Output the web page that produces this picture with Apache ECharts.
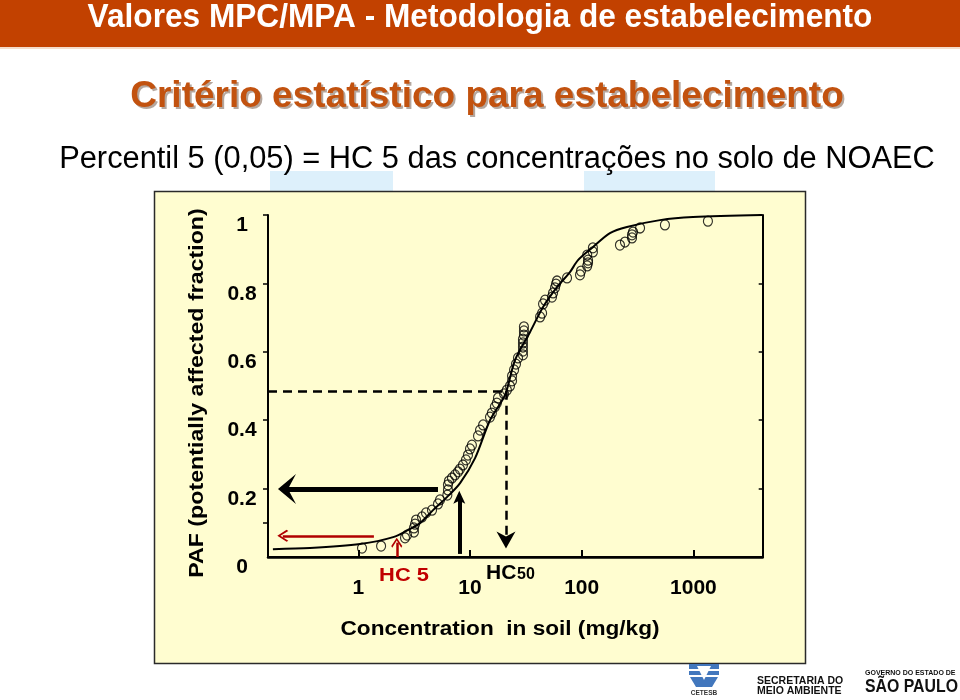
<!DOCTYPE html>
<html><head><meta charset="utf-8">
<script src="https://cdn.jsdelivr.net/npm/echarts@6/dist/echarts.min.js"></script>
<style>html,body{margin:0;padding:0;background:#fff}#c{width:960px;height:700px}</style>
</head><body><div id="c"></div>
<script>
// ---- data ----
const curveConc = [0.172, 0.37, 1.04, 2.05, 2.9, 3.57, 4.67, 6.22, 8.15, 11.1, 15.1, 20.6, 25.3, 34.5, 45.1, 60.1, 78.5, 92.7, 126, 179, 254, 502, 991, 4110];
const curvePaf  = [0.023, 0.026, 0.038, 0.058, 0.082, 0.099, 0.137, 0.175, 0.216, 0.289, 0.400, 0.474, 0.576, 0.658, 0.731, 0.789, 0.833, 0.868, 0.906, 0.947, 0.965, 0.985, 0.994, 1.0];
const speciesConc = [1.08, 1.60, 2.62, 2.73, 3.15, 3.15, 3.22, 3.29, 3.72, 4.04, 4.57, 5.17, 5.39, 6.27, 6.35, 6.35, 6.48, 6.90, 7.34, 7.81, 8.13, 8.65, 9.20, 9.59, 10.0, 10.4, 11.8, 12.3, 13.1, 15.1, 15.7, 16.7, 17.4, 17.8, 20.2, 21.4, 22.8, 23.8, 23.8, 24.8, 25.8, 26.9, 29.8, 29.8, 29.8, 29.8, 29.8, 30.4, 30.4, 30.4, 42.4, 44.2, 45.1, 47.0, 54.2, 55.4, 57.7, 58.9, 60.1, 73.9, 96.6, 98.6, 112, 114, 114, 112, 126, 126, 220, 244, 282, 282, 288, 333, 556, 1349];
const speciesPaf  = [0.026, 0.032, 0.056, 0.064, 0.073, 0.085, 0.096, 0.108, 0.117, 0.129, 0.137, 0.155, 0.167, 0.181, 0.196, 0.211, 0.222, 0.231, 0.240, 0.249, 0.257, 0.269, 0.284, 0.298, 0.316, 0.327, 0.354, 0.371, 0.386, 0.409, 0.421, 0.439, 0.450, 0.465, 0.477, 0.488, 0.500, 0.515, 0.529, 0.547, 0.564, 0.582, 0.591, 0.602, 0.614, 0.626, 0.637, 0.649, 0.661, 0.673, 0.702, 0.713, 0.740, 0.751, 0.760, 0.772, 0.787, 0.798, 0.807, 0.816, 0.825, 0.836, 0.851, 0.860, 0.868, 0.883, 0.892, 0.904, 0.912, 0.921, 0.933, 0.942, 0.950, 0.962, 0.971, 0.982];
const xTickValues = [1, 10, 100, 1000];
const xTickLabels = ['1', '10', '100', '1000'];
const yTickValues = [0, 0.2, 0.4, 0.6, 0.8, 1];
const yTickLabels = ['0', '0.2', '0.4', '0.6', '0.8', '1'];
const yLeftTickMarks = [0.1, 0.2, 0.4, 0.6, 0.8, 1];
// annotation values (data units)
const hc5 = 2.21, hc50 = 21.0, paf50 = 0.486, pafBig = 0.199, bigArrowConc = 8.02;
const bigArrowFrom = 5.17, bigArrowTo = 0.230, bigArrowBottom = 0.009, bigArrowTop = 0.175;
const redArrowFrom = 1.38, redArrowTo = 0.211, redArrowY = 0.062, redArrowTop = 0.042;
const dashedTo = 0.050, xMin = 0.1555, xMax = 4172;

const FF = '"Liberation Sans", Arial, Helvetica, sans-serif';
const chart = echarts.init(document.getElementById('c'), null, {renderer: 'canvas'});

const headBig = 'path://M0,0 L15,18 L0,10 L-15,18 Z';
const headDash = 'path://M0,0 L10,17 L0,12 L-10,17 Z';
const headSmall = 'path://M0,0 L6,13 L0,10 L-6,13 Z';
const headChevron = 'path://M0,0 L10,10 L8.2,11.8 L0,3.4 L-8.2,11.8 L-10,10 Z';

function fmtX(v) {
  const l = Math.log10(v);
  const r = Math.round(l);
  if (Math.abs(l - r) > 1e-6) return '';
  const i = xTickValues.indexOf(Math.pow(10, r));
  return i >= 0 ? xTickLabels[i] : '';
}
function fmtY(v) {
  const i = yTickValues.findIndex(t => Math.abs(t - v) < 1e-9);
  return i >= 0 ? yTickLabels[i] : '';
}

const option = {
  animation: false,
  backgroundColor: '#ffffff',
  grid: {left: 268, top: 215, width: 494.7, height: 342, show: false},
  xAxis: [{
    type: 'log', logBase: 10, min: xMin, max: xMax,
    axisLine: {show: true, lineStyle: {color: '#000', width: 2}},
    axisTick: {show: true, inside: true, length: 7, lineStyle: {color: '#000', width: 2}},
    minorTick: {show: false},
    axisLabel: {formatter: fmtX, color: '#000', fontSize: 21, fontWeight: 'bold', fontFamily: FF, margin: 21, showMinLabel: true, showMaxLabel: true},
    splitLine: {show: false}
  }, {
    type: 'log', logBase: 10, min: xMin, max: xMax, position: 'top',
    axisLine: {show: true, lineStyle: {color: '#000', width: 2.5}},
    axisTick: {show: false}, axisLabel: {show: false}, splitLine: {show: false}
  }],
  yAxis: [{
    type: 'value', min: 0, max: 1, interval: 0.2,
    axisLine: {show: true, lineStyle: {color: '#000', width: 2}},
    axisTick: {show: true, inside: false, length: 5, customValues: yLeftTickMarks, lineStyle: {color: '#000', width: 1.5}},
    axisLabel: {formatter: fmtY, color: '#000', fontSize: 21, fontWeight: 'bold', fontFamily: FF, margin: 26, align: 'center', verticalAlign: 'top', lineHeight: 21},
    splitLine: {show: false}
  }, {
    type: 'value', min: 0, max: 1, interval: 0.2, position: 'right',
    axisLine: {show: true, lineStyle: {color: '#000', width: 2}},
    axisTick: {show: true, inside: true, length: 4, lineStyle: {color: '#000', width: 1.5}},
    axisLabel: {show: false}, splitLine: {show: false}
  }],
  series: [{
    type: 'line', xAxisIndex: 0, yAxisIndex: 0,
    data: curveConc.map((c, i) => [c, curvePaf[i]]),
    showSymbol: false, smooth: 0.3, silent: true, z: 3,
    lineStyle: {color: '#000', width: 2},
    markLine: {
      silent: true, animation: false, symbol: ['none', 'none'],
      label: {show: false}, emphasis: {disabled: true},
      data: [
        [{coord: [bigArrowFrom, pafBig], lineStyle: {color: '#000', width: 5, type: 'solid'}},
         {coord: [bigArrowTo, pafBig], symbol: headBig, symbolSize: [30, 18]}],
        [{coord: [bigArrowConc, bigArrowBottom], lineStyle: {color: '#000', width: 4, type: 'solid'}},
         {coord: [bigArrowConc, bigArrowTop], symbol: headSmall, symbolSize: [12, 13]}],
        [{coord: [xMin, paf50], lineStyle: {color: '#000', width: 2.5, type: [9, 6]}},
         {coord: [hc50, paf50]}],
        [{coord: [hc50, paf50], lineStyle: {color: '#000', width: 2.5, type: [9, 6]}},
         {coord: [hc50, dashedTo], symbol: headDash, symbolSize: [19, 17]}],
        [{coord: [redArrowFrom, redArrowY], lineStyle: {color: '#B00000', width: 2.5, type: 'solid'}},
         {coord: [redArrowTo, redArrowY], symbol: headChevron, symbolSize: [12, 11]}],
        [{coord: [hc5, 0], lineStyle: {color: '#B00000', width: 2.5, type: 'solid'}},
         {coord: [hc5, redArrowTop], symbol: headChevron, symbolSize: [11, 10]}]
      ]
    }
  }, {
    type: 'scatter', xAxisIndex: 0, yAxisIndex: 0, clip: false, silent: true, z: 4,
    data: speciesConc.map((c, i) => [c, speciesPaf[i]]),
    symbol: 'circle', symbolSize: [9, 10],
    itemStyle: {color: 'rgba(0,0,0,0)', borderColor: '#000', borderWidth: 1.2}
  }],
  graphic: {elements: [
    {type: 'rect', z: -10, silent: true, shape: {x: 0, y: 0, width: 960, height: 47}, style: {fill: '#C24100'}},
    {type: 'rect', z: -10, silent: true, shape: {x: 0, y: 47, width: 960, height: 2}, style: {fill: '#F4DCCB'}},
    {type: 'text', z: 10, silent: true, x: 480, y: 18, scaleX: 0.93, style: {text: 'Valores MPC/MPA - Metodologia de estabelecimento', x: 0, y: 0, align: 'center', verticalAlign: 'middle', fill: '#ffffff', font: 'bold 34px ' + FF}},
    {type: 'text', z: 10, silent: true, style: {text: 'Critério estatístico para estabelecimento', x: 489, y: 99, align: 'center', verticalAlign: 'middle', fill: 'rgba(90,60,40,0.45)', font: 'bold 37px ' + FF}},
    {type: 'text', z: 10, silent: true, style: {text: 'Critério estatístico para estabelecimento', x: 487, y: 97, align: 'center', verticalAlign: 'middle', fill: '#C2520F', font: 'bold 37px ' + FF}},
    {type: 'rect', z: -10, silent: true, shape: {x: 270, y: 171, width: 123, height: 20}, style: {fill: '#DDF0FB'}},
    {type: 'rect', z: -10, silent: true, shape: {x: 584, y: 171, width: 131, height: 20}, style: {fill: '#DDF0FB'}},
    {type: 'text', z: 10, silent: true, style: {text: 'Percentil 5 (0,05) = HC 5 das concentrações no solo de NOAEC', x: 497, y: 160, align: 'center', verticalAlign: 'middle', fill: '#000', font: 'normal 30.8px ' + FF}},
    {type: 'rect', z: -10, silent: true, shape: {x: 154.5, y: 191.5, width: 651, height: 472}, style: {fill: '#FFFDD0', stroke: '#2a2a2a', lineWidth: 1.5}},
    {type: 'text', z: 10, silent: true, rotation: Math.PI / 2, x: 197, y: 393, scaleX: 1.16, style: {text: 'PAF (potentially affected fraction)', x: 0, y: 0, align: 'center', verticalAlign: 'middle', fill: '#000', font: 'bold 20px ' + FF}},
    {type: 'text', z: 10, silent: true, x: 404, y: 576, scaleX: 1.15, style: {text: 'HC 5', x: 0, y: 0, align: 'center', verticalAlign: 'middle', fill: '#C00000', font: 'bold 19px ' + FF}},
    {type: 'text', z: 10, silent: true, style: {text: 'HC', x: 486, y: 584, align: 'left', verticalAlign: 'bottom', fill: '#000', font: 'bold 21px ' + FF}},
    {type: 'text', z: 10, silent: true, style: {text: '50', x: 517, y: 583, align: 'left', verticalAlign: 'bottom', fill: '#000', font: 'bold 16px ' + FF}},
    {type: 'text', z: 10, silent: true, x: 500, y: 629, scaleX: 1.13, style: {text: 'Concentration  in soil (mg/kg)', x: 0, y: 0, align: 'center', verticalAlign: 'middle', fill: '#000', font: 'bold 20px ' + FF}},
    // CETESB logo (approximate)
    {type: 'polygon', z: 10, silent: true, shape: {points: [[689, 664], [719, 664], [719, 669], [689, 669]]}, style: {fill: '#4277BD'}},
    {type: 'polygon', z: 10, silent: true, shape: {points: [[689, 671], [719, 671], [719, 675], [689, 675]]}, style: {fill: '#4277BD'}},
    {type: 'polygon', z: 10, silent: true, shape: {points: [[690, 677], [718, 677], [712, 687], [696, 687]]}, style: {fill: '#4277BD'}},
    {type: 'polygon', z: 10, silent: true, shape: {points: [[697, 666], [711, 666], [704, 680]]}, style: {fill: '#ffffff'}},
    {type: 'text', z: 10, silent: true, style: {text: 'CETESB', x: 704, y: 693, align: 'center', verticalAlign: 'middle', fill: '#333', font: 'bold 6.5px ' + FF}},
    {type: 'text', z: 10, silent: true, style: {text: 'SECRETARIA DO', x: 757, y: 681, align: 'left', verticalAlign: 'middle', fill: '#111', font: 'bold 10.5px ' + FF}},
    {type: 'text', z: 10, silent: true, style: {text: 'MEIO AMBIENTE', x: 757, y: 691, align: 'left', verticalAlign: 'middle', fill: '#111', font: 'bold 10.5px ' + FF}},
    {type: 'text', z: 10, silent: true, style: {text: 'GOVERNO DO ESTADO DE', x: 865, y: 673, align: 'left', verticalAlign: 'middle', fill: '#111', font: 'bold 7px ' + FF}},
    {type: 'text', z: 10, silent: true, x: 865, y: 687, scaleX: 0.88, style: {text: 'SÃO PAULO', x: 0, y: 0, align: 'left', verticalAlign: 'middle', fill: '#111', font: 'bold 18px ' + FF}}
  ]}
};
chart.setOption(option);
</script>
</body></html>
